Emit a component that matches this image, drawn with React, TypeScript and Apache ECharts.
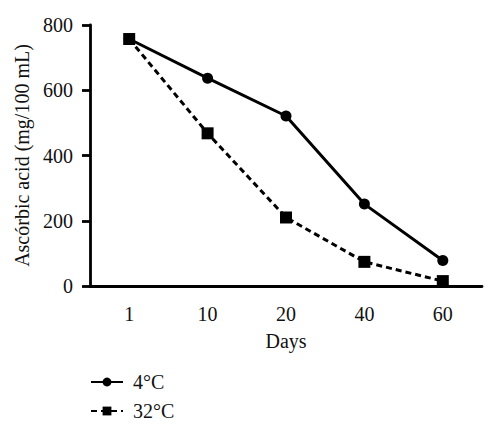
import React, { useEffect, useRef } from "react";
import * as echarts from "echarts";

const days = ["1", "10", "20", "40", "60"];
const series4C = [757, 637, 521, 251, 78];
const series32C = [757, 468, 210, 74, 15];
const yTicks = { min: 0, max: 800, interval: 200 };

const FONT = "Liberation Serif";
const FS = 20;

export default function App() {
  const ref = useRef<HTMLDivElement>(null);
  useEffect(() => {
    const chart = echarts.init(ref.current!, undefined, { renderer: "svg" });
    chart.setOption({
      animation: false,
      backgroundColor: "#fff",
      textStyle: { fontFamily: FONT, color: "#111" },
      grid: { left: 90, top: 25, right: 18, bottom: 149 },
      legend: {
        orient: "vertical",
        left: 85,
        top: 367,
        itemWidth: 32,
        itemHeight: 11,
        itemGap: 9,
        textStyle: { fontFamily: FONT, fontSize: FS, color: "#111", padding: [0, 0, 0, 5] },
        data: ["4°C", "32°C"],
      },
      xAxis: {
        type: "category",
        data: days,
        boundaryGap: true,
        name: "Days",
        nameLocation: "middle",
        nameGap: 45,
        nameTextStyle: { fontFamily: FONT, fontSize: FS, color: "#111" },
        axisLine: { lineStyle: { color: "#000", width: 2.8 } },
        axisTick: { alignWithLabel: true, length: 9, lineStyle: { color: "#000", width: 2.8 } },
        axisLabel: { fontFamily: FONT, fontSize: FS, color: "#111", margin: 18 },
      },
      yAxis: {
        type: "value",
        min: yTicks.min,
        max: yTicks.max,
        interval: yTicks.interval,
        name: "Ascórbic acid (mg/100 mL)",
        nameLocation: "middle",
        nameGap: 51,
        nameTextStyle: { fontFamily: FONT, fontSize: FS, color: "#111" },
        splitLine: { show: false },
        axisLine: { show: true, lineStyle: { color: "#000", width: 2.8 } },
        axisTick: { show: true, length: 8, lineStyle: { color: "#000", width: 2.8 } },
        axisLabel: { fontFamily: FONT, fontSize: FS, color: "#111", margin: 17 },
      },
      series: [
        {
          name: "4°C",
          type: "line",
          data: series4C,
          symbol: "circle",
          symbolSize: 11,
          lineStyle: { color: "#000", width: 3, type: "solid" },
          itemStyle: { color: "#000" },
          z: 3,
        },
        {
          name: "32°C",
          type: "line",
          data: series32C,
          symbol: "rect",
          symbolSize: 12,
          lineStyle: { color: "#000", width: 3, type: [6, 4] },
          itemStyle: { color: "#000" },
          z: 4,
        },
      ],
    });
    return () => chart.dispose();
  }, []);
  return (
    <div
      ref={ref}
      style={{ position: "absolute", left: 0, top: 0, width: 500, height: 435 }}
    />
  );
}
